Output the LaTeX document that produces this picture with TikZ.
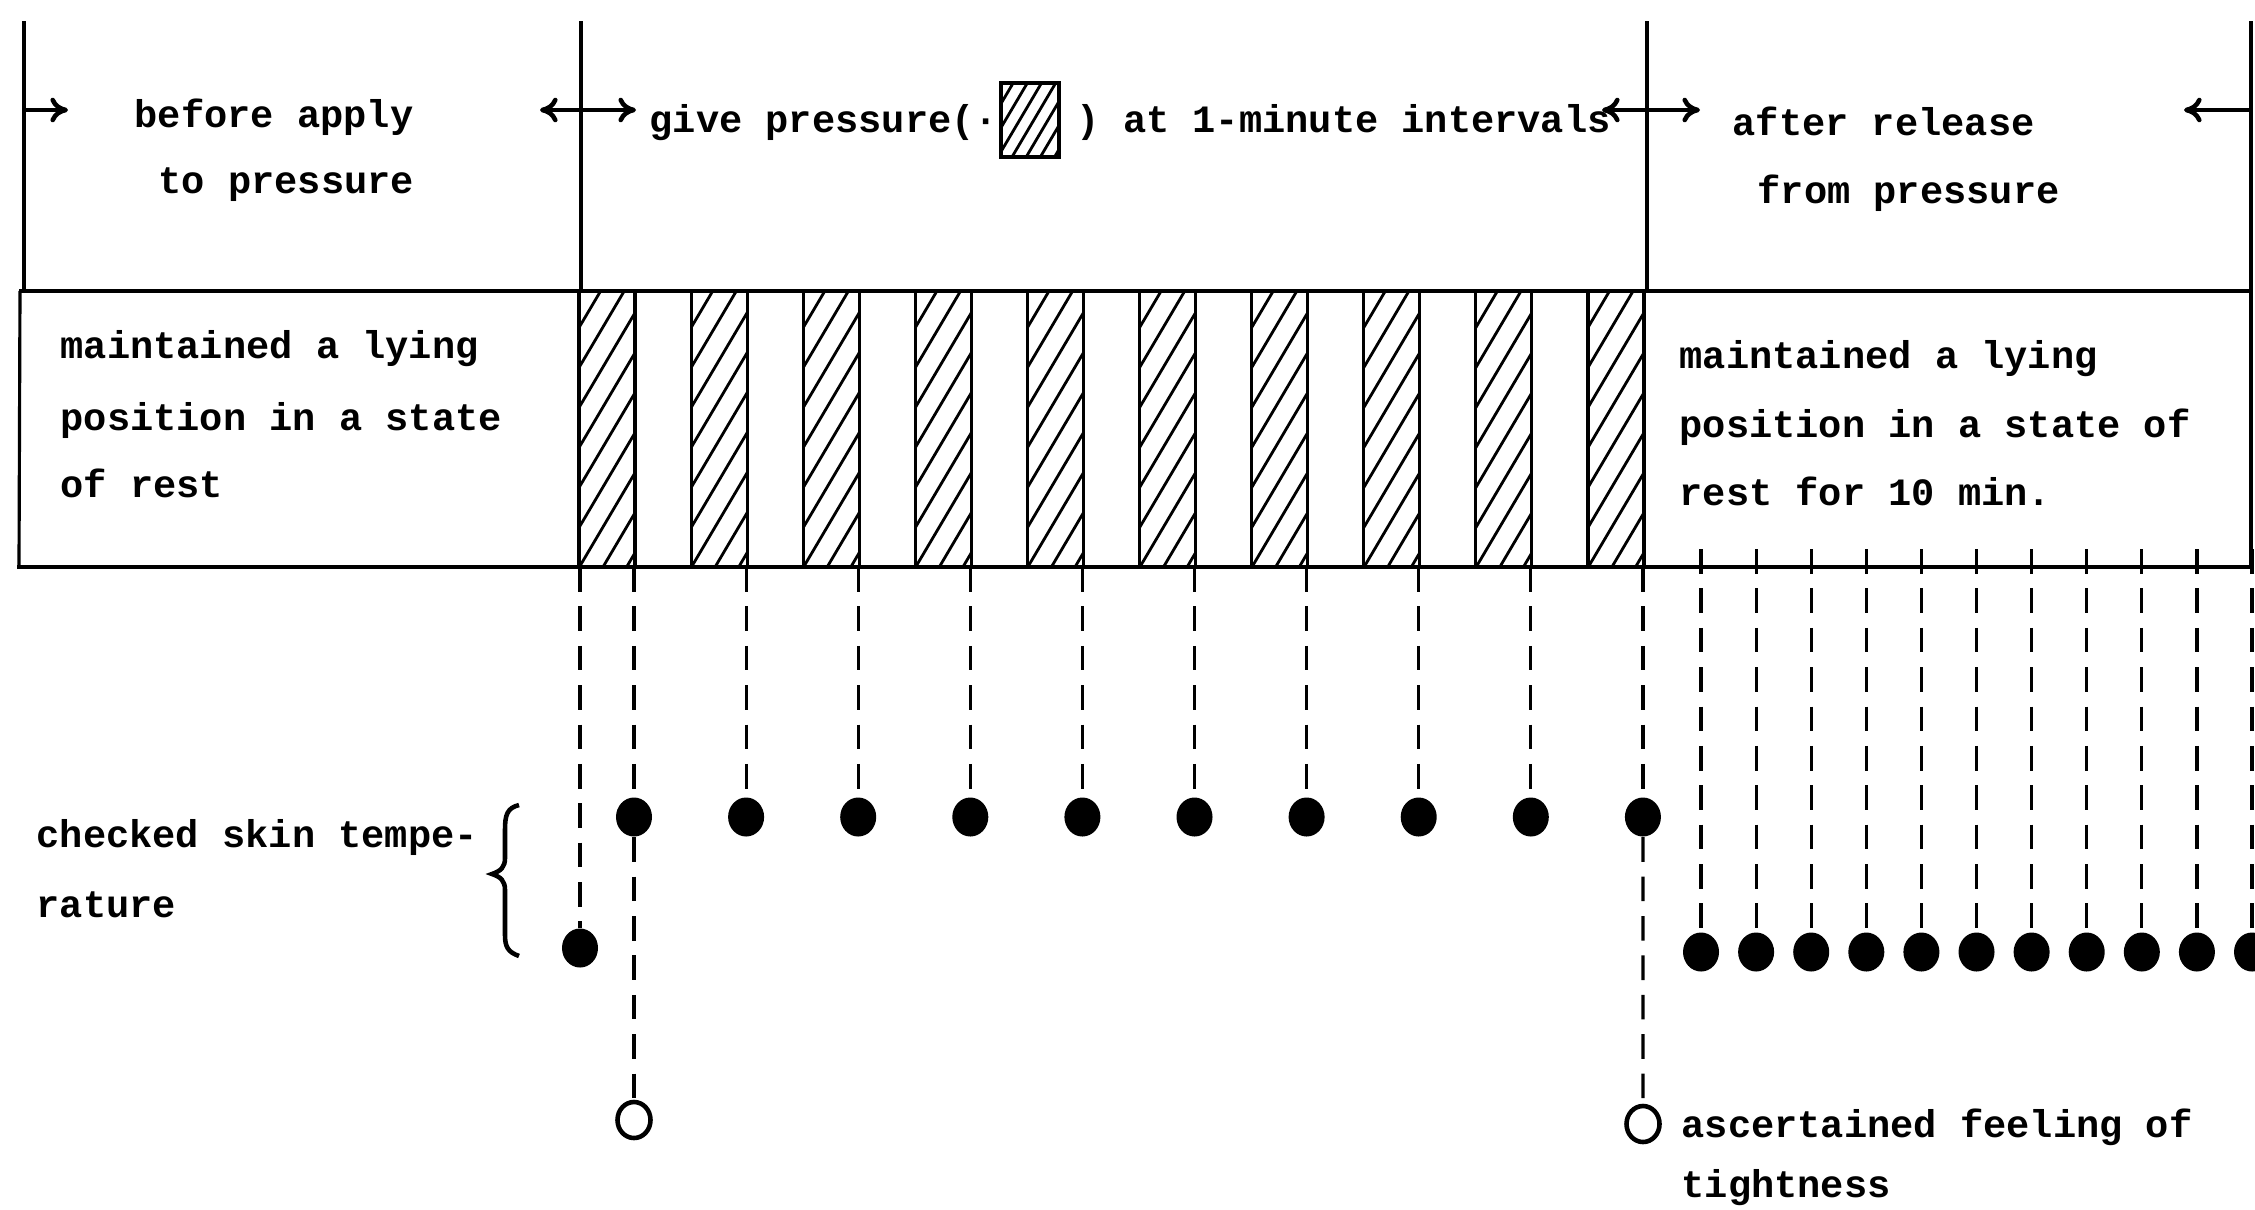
\documentclass[tikz,border=0pt]{standalone}
\usepackage{fontspec}
\setmonofont{Liberation Mono}
\usetikzlibrary{arrows.meta,shapes.geometric}
\begin{document}
\begin{tikzpicture}[x=0.01cm,y=-0.01cm,
  txt/.style={anchor=base west,inner sep=0pt,font=\ttfamily\bfseries\fontsize{11}{13}\selectfont},
  frameline/.style={line width=0.9pt},
  bandline/.style={line width=1.4pt},
  hatchline/.style={line width=0.8pt},
  dline/.style={line width=0.9pt,dash pattern=on 7pt off 4.2pt},
  fdot/.style={ellipse,fill=black,inner sep=0pt,minimum width=0.36cm,minimum height=0.39cm},
  odot/.style={ellipse,draw=black,line width=1.3pt,fill=white,inner sep=0pt,minimum width=0.33cm,minimum height=0.36cm},
  arr/.style={line width=1.3pt,-{To[length=5pt,width=7pt]}},
  darr/.style={line width=1.3pt,{To[length=5pt,width=7pt]}-{To[length=5pt,width=7pt]}}
]
\useasboundingbox (0,0) rectangle (2255,1209);

% ---------- top section verticals ----------
\draw[frameline] (24,21) -- (24,291);
\draw[frameline] (581,21) -- (581,291);
\draw[frameline] (1647,21) -- (1647,291);
\draw[frameline] (2251,21) -- (2251,291);

% ---------- band ----------
\draw[frameline] (20,291) -- (19,567);
\draw[frameline] (2251,291) -- (2251,567);

% hatched strips
\foreach \i in {0,...,9}{
  \pgfmathsetmacro{\L}{579+112.1*\i}
  \pgfmathsetmacro{\R}{\L+56}
  \begin{scope}
    \clip (\L,291) rectangle (\R,567);
    \foreach \c in {0,40,...,400}{
      \draw[hatchline] (\L-2,291+\c) -- ++(62,-105);
    }
  \end{scope}
  \draw[frameline] (\L,291) rectangle (\R,567);
}
\draw[bandline] (19,291) -- (2252,291);
\draw[bandline] (17,567) -- (2252,567);

% ---------- top arrows ----------
\coordinate (a0s) at (25,110); \coordinate (a0e) at (68,110);
\coordinate (a1s) at (540,110); \coordinate (a1e) at (636,110);
\coordinate (a2s) at (1602,110); \coordinate (a2e) at (1700,110);
\coordinate (a3s) at (2252,110); \coordinate (a3e) at (2184,110);
\draw[arr] (a0s) -- (a0e);
\draw[darr] (a1s) -- (a1e);
\draw[darr] (a2s) -- (a2e);
\draw[arr] (a3s) -- (a3e);

% ---------- top texts ----------
\node[txt] (ta1) at (134,127) {before apply};
\node[txt] (ta2) at (158,193) {to pressure};
\node[txt] (tb1) at (649,132) {give pressure(·};
\node[txt] (tb2) at (1076,132) {) at 1-minute intervals};
\node[txt] (tc1) at (1732,135) {after release};
\node[txt] (tc2) at (1757,203) {from pressure};

% legend box
\begin{scope}
  \clip (1001,83) rectangle (1059,157);
  \foreach \c in {0,24,...,180}{
    \draw[hatchline] (999,83+\c) -- ++(62,-105);
  }
\end{scope}
\draw[line width=1.2pt] (1001,83) rectangle (1059,157);

% ---------- band texts ----------
\node[txt] (l1) at (60,358) {maintained a lying};
\node[txt] (l2) at (60,430) {position in a state};
\node[txt] (l3) at (60,497) {of rest};
\node[txt] (r1) at (1679,368) {maintained a lying};
\node[txt] (r2) at (1679,437) {position in a state of};
\node[txt] (r3) at (1679,505) {rest for 10 min.};

% ---------- measurement points ----------
% start of pressure
\coordinate (s0) at (580,567);
\node[fdot] (d0) at (580,948) {};
\draw[dline] (s0) -- (d0.north);

% after each pressure period
\foreach \i in {1,...,10}{
  \pgfmathsetmacro{\X}{579+112.1*(\i-1)+55}
  \coordinate (s\i) at (\X,567);
  \node[fdot] (u\i) at (\X,817) {};
  \draw[dline] (s\i) -- (u\i.north);
}

% feeling of tightness
\node[odot] (o1) at (634,1120) {};
\node[odot] (o2) at (1643,1124) {};
\draw[dline] (u1.south) -- (o1.north);
\draw[dline] (u10.south) -- (o2.north);

% after release, every minute
\foreach \k in {0,...,10}{
  \pgfmathsetmacro{\X}{1701+55.1*\k}
  \coordinate (q\k) at (\X,549);
  \node[fdot] (p\k) at (\X,952) {};
  \draw[dline] (q\k) -- (p\k.north);
}

% ---------- lower texts ----------
\node[txt] (c1) at (36,847) {checked skin tempe-};
\node[txt] (c2) at (36,917) {rature};
\draw[line width=1.3pt] (519,805) .. controls (507,808) and (505,815) .. (505,830)
  -- (505,858) .. controls (505,867) and (501,871) .. (492,874)
  .. controls (501,877) and (505,881) .. (505,890)
  -- (505,935) .. controls (505,947) and (508,952) .. (519,956);

\node[txt] (e1) at (1681,1137) {ascertained feeling of};
\node[txt] (e2) at (1681,1197) {tightness};
\end{tikzpicture}
\end{document}
